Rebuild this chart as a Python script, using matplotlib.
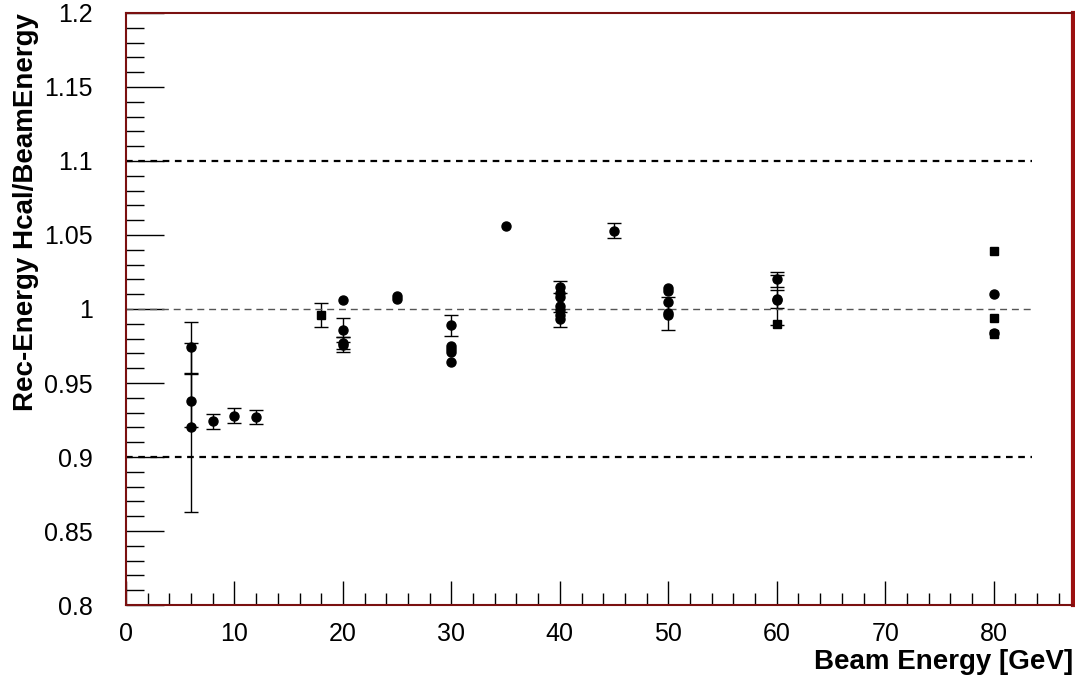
import numpy as np
import matplotlib.pyplot as plt
from matplotlib.ticker import MultipleLocator, FuncFormatter

plt.rcParams['font.family'] = ['Liberation Sans', 'DejaVu Sans']

# beam energies [GeV], response ratio and error, filled circles
circ_e = [6, 6, 6, 8, 10, 12,
          20, 20, 20, 20, 25, 25,
          30, 30, 30, 30, 30, 35,
          40, 40, 40, 40, 40, 40, 40, 45,
          50, 50, 50, 50, 50,
          60, 60, 60, 80, 80]
circ_r = [0.974, 0.938, 0.920, 0.924, 0.928, 0.927,
          1.006, 0.986, 0.977, 0.976, 1.009, 1.007,
          0.989, 0.975, 0.973, 0.971, 0.964, 1.056,
          1.015, 1.011, 1.008, 1.002, 0.999, 0.996, 0.993, 1.053,
          1.014, 1.012, 1.005, 0.997, 0.996,
          1.020, 1.007, 1.006, 1.010, 0.984]
circ_err = [0.017, 0.018, 0.057, 0.005, 0.005, 0.005,
            0.001, 0.008, 0.004, 0.005, 0.001, 0.001,
            0.007, 0.003, 0.003, 0.003, 0.002, 0.001,
            0.004, 0.003, 0.003, 0.003, 0.003, 0.003, 0.005, 0.005,
            0.002, 0.002, 0.002, 0.011, 0.002,
            0.005, 0.006, 0.017, 0.001, 0.001]

# filled squares
sq_e = [18, 60, 80, 80, 80]
sq_r = [0.996, 0.990, 1.039, 0.994, 0.983]
sq_err = [0.008, 0.002, 0.001, 0.001, 0.001]

# reference lines
ref_dash = [0.9, 1.1]
ref_one = 1.0

fig = plt.figure(figsize=(10.75, 6.76), dpi=100)
ax = fig.add_axes([0.1172, 0.105, 0.8808, 0.8758])


def draw_points(e, r, err, marker, ms):
    e, r, err = np.array(e), np.array(r), np.array(err)
    # errors smaller than the marker are hidden, as in ROOT
    big = err >= 0.004
    ax.errorbar(e[big], r[big], yerr=err[big], fmt='none', ecolor='black',
                elinewidth=1, capsize=5, capthick=1, zorder=2)
    ax.plot(e, r, marker, color='black', ms=ms, zorder=3)


draw_points(circ_e, circ_r, circ_err, 'o', 6.5)
draw_points(sq_e, sq_r, sq_err, 's', 6)

for v in ref_dash:
    ax.plot([0, 83.5], [v, v], color='black', lw=1.6, ls=(0, (3, 2.5)))
ax.plot([0, 83.5], [ref_one, ref_one], color='#555555', lw=1.0, ls=(0, (5, 3.5)))

ax.set_xlim(0, 87.3)
ax.set_ylim(0.8, 1.2)

ax.xaxis.set_major_locator(MultipleLocator(10))
ax.xaxis.set_minor_locator(MultipleLocator(2))
ax.yaxis.set_major_locator(MultipleLocator(0.05))
ax.yaxis.set_minor_locator(MultipleLocator(0.01))
ax.yaxis.set_major_formatter(FuncFormatter(lambda v, p: f'{v:g}'))

ax.tick_params(axis='both', which='both', direction='in', labelsize=18,
               top=False, right=False, color='black', width=1)
ax.tick_params(axis='x', which='major', length=17, pad=12)
ax.tick_params(axis='x', which='minor', length=9)
ax.tick_params(axis='y', which='major', length=27, pad=24)
ax.tick_params(axis='y', which='minor', length=13)

for side in ['left', 'top', 'bottom']:
    ax.spines[side].set_color('#7a1010')
    ax.spines[side].set_linewidth(1.5)
ax.spines['right'].set_color('#9b1010')
ax.spines['right'].set_linewidth(3)

ax.set_ylabel('Rec-Energy Hcal/BeamEnergy', fontsize=20, fontweight='bold')
ax.yaxis.set_label_coords(-0.092, 1.0)
ax.yaxis.label.set_horizontalalignment('right')
ax.set_xlabel('Beam Energy [GeV]', fontsize=20, fontweight='bold')
ax.xaxis.set_label_coords(1.0, -0.075)
ax.xaxis.label.set_horizontalalignment('right')

fig.savefig('out.png', dpi=100)
